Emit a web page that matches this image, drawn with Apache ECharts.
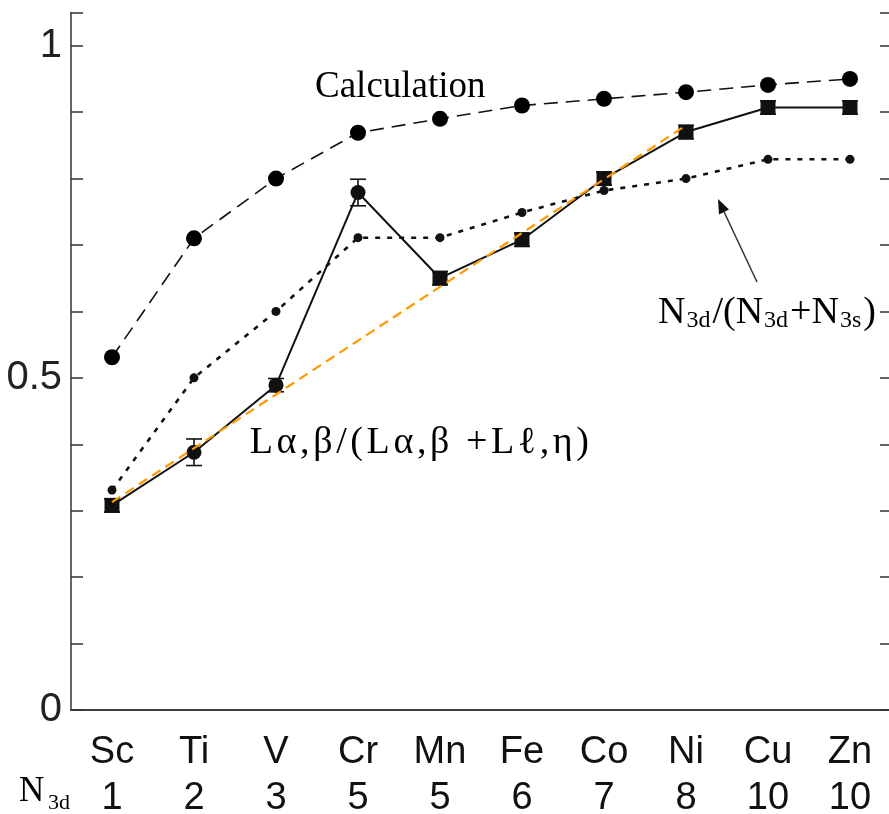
<!DOCTYPE html>
<html><head><meta charset="utf-8">
<script src="https://cdn.jsdelivr.net/npm/echarts@6/dist/echarts.min.js"></script>
<style>html,body{margin:0;padding:0;background:#fff}#c{width:889px;height:814px}</style>
</head><body><div id="c"></div>
<script>
// ---- data ----
const elements = ['Sc','Ti','V','Cr','Mn','Fe','Co','Ni','Cu','Zn'];
const n3d = [1,2,3,5,5,6,7,8,10,10];
const calculation = [0.531,0.71,0.80,0.869,0.89,0.91,0.92,0.93,0.941,0.95];
const ratioN = [0.331,0.50,0.60,0.711,0.711,0.749,0.782,0.80,0.829,0.829];
const ratioL = [0.308,0.388,0.489,0.779,0.65,0.708,0.80,0.87,0.907,0.907];
const ratioLErr = [0.01,0.02,0.01,0.02,0.01,0.01,0.01,0.01,0.01,0.01];
const trend = [0.313,null,null,null,null,null,null,0.88,null,null];
const yTickLabels = [0, 0.5, 1];

// ---- styling ----
const lSymbols = ['rect','circle','circle','circle','rect','rect','rect','rect','rect','rect'];
const axisColor = '#333';
const sans = "'Liberation Sans', Arial, sans-serif";
const serif = "'Liberation Serif', 'DejaVu Serif', 'Times New Roman', serif";

const chart = echarts.init(document.getElementById('c'), null, {renderer:'canvas'});

// spaced label text, one token per glyph
const lLabel = 'Lα,β/(Lα,β +Lℓ,η)';
const lLabelRich = Array.from(lLabel).map(ch => '{g|' + ch + '}').join('');

const tickStyle = {color: axisColor, width: 1.5};
const option = {
  animation: false,
  backgroundColor: '#fff',
  grid: {left: 71, top: 12.5, width: 820, height: 697.5, containLabel: false, outerBoundsMode: 'none'},
  xAxis: [{
    type: 'category', data: elements, boundaryGap: true,
    axisLine: {lineStyle: tickStyle},
    axisTick: {inside: true, length: 12, alignWithLabel: true, lineStyle: tickStyle},
    splitLine: {show: false},
    axisLabel: {
      interval: 0, margin: 20,
      formatter: (v, i) => '{a|' + v + '}\n{b|' + n3d[i] + '}',
      rich: {
        a: {fontSize: 38, lineHeight: 46, fontFamily: sans, color: '#111'},
        b: {fontSize: 38, lineHeight: 46, fontFamily: sans, color: '#111'}
      }
    }
  }, {
    type: 'category', data: elements, boundaryGap: true, position: 'top',
    axisLine: {lineStyle: tickStyle},
    axisTick: {inside: true, length: 12, alignWithLabel: true, lineStyle: tickStyle},
    axisLabel: {show: false}, splitLine: {show: false}
  }],
  yAxis: [{
    type: 'value', min: 0, max: 1.05, interval: 0.1,
    axisLine: {show: true, lineStyle: tickStyle},
    axisTick: {show: true, inside: true, length: 12, lineStyle: tickStyle},
    splitLine: {show: false},
    axisLabel: {
      margin: 9, fontSize: 40, fontFamily: sans, color: '#222',
      formatter: v => {
        for (const t of yTickLabels) if (Math.abs(v - t) < 1e-6) return String(t);
        return '';
      }
    }
  }, {
    type: 'value', min: 0, max: 1.05, interval: 0.1, position: 'right',
    axisLine: {show: false},
    axisTick: {show: true, inside: true, length: 11, lineStyle: tickStyle},
    splitLine: {show: false}, axisLabel: {show: false}
  }],
  series: [
    {
      name: 'Calculation', type: 'line', data: calculation,
      symbol: 'circle', symbolSize: 16, itemStyle: {color: '#000'},
      lineStyle: {color: '#111', width: 1.6, type: [14, 8]}, z: 3
    },
    {
      name: 'N3d/(N3d+N3s)', type: 'line', data: ratioN,
      symbol: 'circle', symbolSize: 9, itemStyle: {color: '#111'},
      lineStyle: {color: '#111', width: 2.6, type: [5, 7]}, z: 3
    },
    {
      name: 'La', type: 'line',
      data: ratioL.map((v, i) => ({value: v, symbol: lSymbols[i]})),
      symbolSize: 15, itemStyle: {color: '#111'},
      lineStyle: {color: '#111', width: 2}, z: 4
    },
    {
      name: 'La error', type: 'custom', z: 5,
      data: ratioL.map((v, i) => [i, v, ratioLErr[i]]),
      encode: {x: 0, y: 1},
      renderItem: (params, api) => {
        const x = api.value(0), v = api.value(1), e = api.value(2);
        const t = api.coord([x, v + e]), b = api.coord([x, v - e]);
        const hw = 8, st = {stroke: '#111', lineWidth: 1.6};
        return {type: 'group', children: [
          {type: 'line', shape: {x1: t[0], y1: t[1], x2: b[0], y2: b[1]}, style: st},
          {type: 'line', shape: {x1: t[0] - hw, y1: t[1], x2: t[0] + hw, y2: t[1]}, style: st},
          {type: 'line', shape: {x1: b[0] - hw, y1: b[1], x2: b[0] + hw, y2: b[1]}, style: st}
        ]};
      }
    },
    {
      name: 'trend', type: 'line', data: trend, connectNulls: true,
      symbol: 'none', lineStyle: {color: '#FF9900', width: 2.2, type: [10, 6]}, z: 6
    }
  ],
  graphic: [
    {type: 'text', x: 315, y: 87, style: {text: 'Calculation', font: '37px ' + serif, fill: '#000', verticalAlign: 'middle'}},
    {type: 'text', x: 248, y: 443, style: {
      text: lLabelRich, verticalAlign: 'middle',
      rich: {g: {fontSize: 38, fontFamily: serif, color: '#000', padding: [0, 1.8, 0, 1.8]}}
    }},
    {type: 'text', x: 657, y: 293, style: {
      text: '{m|N}{s|3d}{m|/(N}{s|3d}{m|+N}{s|3s}{m|)}', verticalAlign: 'top',
      rich: {
        m: {fontSize: 38, fontFamily: serif, lineHeight: 40, color: '#000', padding: [0, 1, 0, 1]},
        s: {fontSize: 24, fontFamily: serif, lineHeight: 20, verticalAlign: 'bottom', color: '#000', padding: [0, 1, 0, 0]}
      }
    }},
    {type: 'text', x: 19, y: 792, style: {text: 'N', font: '35px ' + serif, fill: '#000', verticalAlign: 'middle'}},
    {type: 'text', x: 48, y: 803, style: {text: '3d', font: '22px ' + serif, fill: '#000', verticalAlign: 'middle'}},
    {type: 'line', shape: {x1: 757, y1: 282, x2: 724, y2: 211.7}, style: {stroke: '#333', lineWidth: 1.5}},
    {type: 'polygon', shape: {points: [[718, 199], [729, 209.5], [719, 214.5]]}, style: {fill: '#111'}}
  ]
};
chart.setOption(option);
</script></body></html>
